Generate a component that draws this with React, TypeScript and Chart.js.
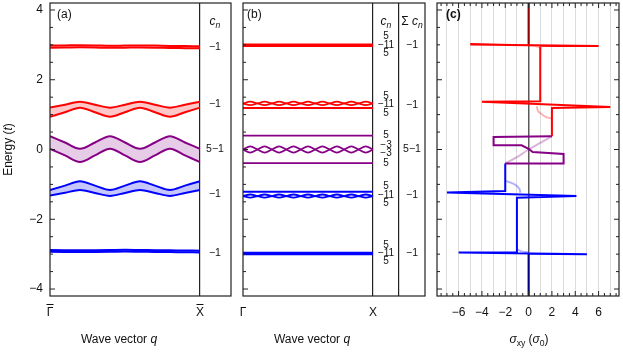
import React, { useEffect, useRef } from "react";
import { Chart, registerables } from "chart.js";
Chart.register(...registerables);

const FONT = "'Liberation Sans', Arial, Helvetica, sans-serif";
const RED = "#ff0000";
const PURPLE = "#860086";
const BLUE = "#0000ff";
const DARKRED = "#8b0000";
const NAVY = "#000080";
const RED_FILL = "rgba(255,0,0,0.22)";
const PUR_FILL = "rgba(134,0,134,0.2)";
const BLU_FILL = "rgba(0,0,255,0.22)";
const INK = "#111";

// ---------- Panel (a): bands along wave vector q ----------
const qA = [0, 0.1, 0.2, 0.3, 0.4, 0.5, 0.6, 0.7, 0.8, 0.9, 1.0];
const aRedTopUpper = [2.98, 2.985, 2.99, 2.985, 2.975, 2.98, 2.985, 2.98, 2.97, 2.965, 2.96];
const aRedTopLower = [2.92, 2.925, 2.93, 2.925, 2.915, 2.92, 2.925, 2.92, 2.91, 2.905, 2.9];
const aRedUpper = [1.2, 1.285, 1.37, 1.285, 1.2, 1.285, 1.37, 1.285, 1.2, 1.285, 1.37];
const aRedLower = [0.94, 1.07, 1.2, 1.07, 0.94, 1.07, 1.2, 1.07, 0.94, 1.07, 1.2];
const aPurUpper = [0.38, 0.2, 0.02, 0.2, 0.38, 0.2, 0.02, 0.2, 0.38, 0.2, 0.02];
const aPurLower = [0.02, -0.17, -0.36, -0.17, 0.02, -0.17, -0.36, -0.17, 0.02, -0.17, -0.36];
const aBluUpper = [-1.16, -1.035, -0.91, -1.035, -1.16, -1.035, -0.91, -1.035, -1.16, -1.035, -0.91];
const aBluLower = [-1.32, -1.24, -1.16, -1.245, -1.33, -1.245, -1.16, -1.245, -1.33, -1.245, -1.16];
const aBluBotUpper = [-2.88, -2.885, -2.89, -2.885, -2.88, -2.875, -2.88, -2.885, -2.89, -2.895, -2.9];
const aBluBotLower = [-2.93, -2.935, -2.94, -2.935, -2.93, -2.925, -2.93, -2.935, -2.94, -2.945, -2.95];
const aChernLabels = ["\u22121", "\u22121", "5\u22121", "\u22121", "\u22121"];
const aChernEnergies = [2.94, 1.3, 0, -1.27, -2.98];
const qTickValuesA = [0, 1];
const qTickLabelsA = ["\u0393", "X"]; // drawn with an overbar (\u0393\u0304, X\u0304)

// ---------- Panel (b) ----------
const qEnds = [0, 1];
const qB = [0, 0.0556, 0.1111, 0.1667, 0.2222, 0.2778, 0.3333, 0.3889, 0.4444, 0.5, 0.5556, 0.6111, 0.6667, 0.7222, 0.7778, 0.8333, 0.8889, 0.9444, 1];
const bRedTop = [2.99, 2.99];
const bRedBraidA = [1.32, 1.37, 1.32, 1.27, 1.32, 1.37, 1.32, 1.27, 1.32, 1.37, 1.32, 1.27, 1.32, 1.37, 1.32, 1.27, 1.32, 1.37, 1.32];
const bRedBraidB = [1.32, 1.27, 1.32, 1.37, 1.32, 1.27, 1.32, 1.37, 1.32, 1.27, 1.32, 1.37, 1.32, 1.27, 1.32, 1.37, 1.32, 1.27, 1.32];
const bRedLow = [1.19, 1.19];
const bPurTop = [0.4, 0.4];
const bPurBraidA = [0, 0.09, 0, -0.09, 0, 0.09, 0, -0.09, 0, 0.09, 0, -0.09, 0, 0.09, 0, -0.09, 0, 0.09, 0];
const bPurBraidB = [0, -0.09, 0, 0.09, 0, -0.09, 0, 0.09, 0, -0.09, 0, 0.09, 0, -0.09, 0, 0.09, 0, -0.09, 0];
const bPurLow = [-0.39, -0.39];
const bBluTop = [-1.21, -1.21];
const bBluBraidA = [-1.335, -1.29, -1.335, -1.38, -1.335, -1.29, -1.335, -1.38, -1.335, -1.29, -1.335, -1.38, -1.335, -1.29, -1.335, -1.38, -1.335, -1.29, -1.335];
const bBluBraidB = [-1.335, -1.38, -1.335, -1.29, -1.335, -1.38, -1.335, -1.29, -1.335, -1.38, -1.335, -1.29, -1.335, -1.38, -1.335, -1.29, -1.335, -1.38, -1.335];
const bBluBot = [-2.98, -2.98];
const bChernLabels = ["5", "\u221211", "5", "5", "\u221211", "5", "5", "\u22123", "\u22123", "5", "5", "\u221211", "5", "5", "\u221211", "5"];
const bChernEnergies = [3.24, 3.0, 2.76, 1.52, 1.31, 1.05, 0.4, 0.11, -0.11, -0.4, -1.05, -1.31, -1.54, -2.74, -2.98, -3.2];
const bSumLabels = ["\u22121", "\u22121", "5\u22121", "\u22121", "\u22121"];
const bSumEnergies = [3.0, 1.26, 0, -1.31, -2.98];
const qTickValuesB = [0, 1, 1.2];
const qTickLabelsB = ["\u0393", "X", ""];

// ---------- Panel (c): Hall conductivity vs energy ----------
const cSigmaDarkRed = [0, 0];
const cEnergyDarkRed = [4.25, 2.99];
const cSigmaRed = [0, -5.0, 6.0, 1.0, 1.0, -4.0, 7.0, 2.0, 2.0];
const cEnergyRed = [2.99, 3.01, 2.97, 2.97, 1.38, 1.37, 1.22, 1.19, 0.38];
const cSigmaPur = [2.0, -3.0, -3.0, -0.6, 0, 0.35, 3.0, 3.0, -2.0];
const cEnergyPur = [0.38, 0.36, 0.12, 0.12, 0.02, -0.07, -0.13, -0.4, -0.4];
const cSigmaBlu = [-2.0, -2.0, -7.0, 4.1, -1.0, -1.0, -6.0, 5.0, 0];
const cEnergyBlu = [-0.4, -1.19, -1.23, -1.33, -1.38, -2.95, -2.95, -3.0, -2.99];
const cSigmaNavy = [0, 0];
const cEnergyNavy = [-2.99, -4.25];
const cSigmaLightRed1 = [0, 0.6, 0.9, 1.0];
const cEnergyLightRed1 = [2.99, 2.97, 2.93, 2.9];
const cSigmaLightRed2 = [0.7, 0.8, 1.0, 1.5, 2.0];
const cEnergyLightRed2 = [1.24, 1.12, 1.04, 0.93, 0.89];
const cSigmaLightPur = [2.0, 1.0, 0, -1.0, -2.0];
const cEnergyLightPur = [0.38, 0.19, 0, -0.22, -0.4];
const cSigmaLightBlu1 = [-2.0, -1.2, -0.8, -0.7];
const cEnergyLightBlu1 = [-0.9, -1.0, -1.12, -1.24];
const cSigmaLightBlu2 = [-1.0, -0.6, 0];
const cEnergyLightBlu2 = [-2.86, -2.92, -2.95];
const cGridValues = [-7, -6, -5, -4, -3, -2, -1, 0, 1, 2, 3, 4, 5, 6, 7];
const cTickValues = [-6, -4, -2, 0, 2, 4, 6];
const cTickLabels = ["\u22126", "\u22124", "\u22122", "0", "2", "4", "6"];

const yTickValues = [-4, -2, 0, 2, 4];
const yTickLabels = ["\u22124", "\u22122", "0", "2", "4"];

type Part = { t: string; i?: boolean; sub?: boolean; b?: boolean };

function pts(xs: number[], ys: number[]) {
  return xs.map((x, i) => ({ x, y: ys[i] }));
}

function lineDS(xs: number[], ys: number[], color: string, width: number, extra: any = {}) {
  return { data: pts(xs, ys), borderColor: color, borderWidth: width, pointRadius: 0, fill: false, tension: 0, ...extra };
}

function rich(ctx: CanvasRenderingContext2D, parts: Part[], x: number, y: number, size: number, align = "center") {
  const f = (p: Part) => `${p.i ? "italic " : ""}${p.b ? "bold " : ""}${p.sub ? size * 0.72 : size}px ${FONT}`;
  let total = 0;
  for (const p of parts) {
    ctx.font = f(p);
    total += ctx.measureText(p.t).width;
  }
  let cx = align === "center" ? x - total / 2 : align === "right" ? x - total : x;
  ctx.textBaseline = "middle";
  ctx.textAlign = "left";
  ctx.fillStyle = INK;
  for (const p of parts) {
    ctx.font = f(p);
    ctx.fillText(p.t, cx, y + (p.sub ? size * 0.32 : 0));
    cx += ctx.measureText(p.t).width;
  }
}

function seg(ctx: CanvasRenderingContext2D, x1: number, y1: number, x2: number, y2: number) {
  ctx.beginPath();
  ctx.moveTo(x1, y1);
  ctx.lineTo(x2, y2);
  ctx.stroke();
}

function frame(chart: any) {
  const { ctx, chartArea: a } = chart;
  ctx.save();
  ctx.strokeStyle = "#222";
  ctx.lineWidth = 1.2;
  ctx.strokeRect(a.left, a.top, a.right - a.left, a.bottom - a.top);
  ctx.restore();
}

function yTicks(chart: any, side: "left" | "right") {
  const { ctx, chartArea: a } = chart;
  const y = chart.scales.y;
  ctx.save();
  ctx.strokeStyle = "#222";
  ctx.lineWidth = 1;
  for (let k = -8; k <= 8; k++) {
    const v = k * 0.5;
    const len = k % 4 === 0 ? 5 : 3;
    const py = y.getPixelForValue(v);
    if (side === "left") seg(ctx, a.left, py, a.left + len, py);
    else seg(ctx, a.right, py, a.right - len, py);
  }
  ctx.restore();
}

function xTicksC(chart: any) {
  const { ctx, chartArea: a } = chart;
  const x = chart.scales.x;
  ctx.save();
  ctx.strokeStyle = "#222";
  ctx.lineWidth = 1;
  for (let k = -15; k <= 15; k++) {
    const v = k * 0.5;
    const len = k % 4 === 0 ? 5 : 3;
    const px = x.getPixelForValue(v);
    seg(ctx, px, a.bottom, px, a.bottom - len);
    seg(ctx, px, a.top, px, a.top + len);
  }
  ctx.restore();
}

const decorA = {
  id: "decorA",
  afterDraw(chart: any) {
    const { ctx, chartArea: a } = chart;
    const x = chart.scales.x, y = chart.scales.y;
    frame(chart);
    yTicks(chart, "left");
    ctx.save();
    // overbars on the tick labels
    ctx.strokeStyle = INK;
    ctx.lineWidth = 1;
    qTickValuesA.forEach((v) => {
      const px = x.getPixelForValue(v);
      seg(ctx, px - 3.5, a.bottom + 8.5, px + 3.5, a.bottom + 8.5);
    });
    rich(ctx, [{ t: "(a)" }], a.left + 7, a.top + 12, 12, "left");
    rich(ctx, [{ t: "c", i: true }, { t: "n", i: true, sub: true }], x.getPixelForValue(1.1), y.getPixelForValue(3.66), 12);
    aChernLabels.forEach((l, i) => rich(ctx, [{ t: l }], x.getPixelForValue(1.1), y.getPixelForValue(aChernEnergies[i]), 10.5));
    rich(ctx, [{ t: "Wave vector " }, { t: "q", i: true }], 119, 340, 12);
    ctx.translate(9, (a.top + a.bottom) / 2);
    ctx.rotate(-Math.PI / 2);
    rich(ctx, [{ t: "Energy (" }, { t: "t", i: true }, { t: ")" }], 0, 0, 12);
    ctx.restore();
  },
};

const decorB = {
  id: "decorB",
  afterDraw(chart: any) {
    const { ctx, chartArea: a } = chart;
    const x = chart.scales.x, y = chart.scales.y;
    frame(chart);
    yTicks(chart, "left");
    ctx.save();
    rich(ctx, [{ t: "(b)" }], a.left + 4, a.top + 12, 12, "left");
    rich(ctx, [{ t: "c", i: true }, { t: "n", i: true, sub: true }], x.getPixelForValue(1.1), y.getPixelForValue(3.66), 12);
    rich(ctx, [{ t: "\u03a3 " }, { t: "c", i: true }, { t: "n", i: true, sub: true }], x.getPixelForValue(1.3), y.getPixelForValue(3.66), 12);
    bChernLabels.forEach((l, i) => rich(ctx, [{ t: l }], x.getPixelForValue(1.1), y.getPixelForValue(bChernEnergies[i]), 10));
    bSumLabels.forEach((l, i) => rich(ctx, [{ t: l }], x.getPixelForValue(1.3), y.getPixelForValue(bSumEnergies[i]), 10.5));
    rich(ctx, [{ t: "Wave vector " }, { t: "q", i: true }], 77, 340, 12);
    ctx.restore();
  },
};

const decorC = {
  id: "decorC",
  afterDraw(chart: any) {
    const { ctx, chartArea: a } = chart;
    frame(chart);
    yTicks(chart, "left");
    yTicks(chart, "right");
    xTicksC(chart);
    ctx.save();
    rich(ctx, [{ t: "(c)", b: true }], a.left + 9, a.top + 12, 12, "left");
    rich(
      ctx,
      [{ t: "\u03c3", i: true }, { t: "xy", sub: true }, { t: " (" }, { t: "\u03c3", i: true }, { t: "0", sub: true }, { t: ")" }],
      99,
      340,
      12
    );
    ctx.restore();
  },
};

const tickFont = { family: FONT, size: 12 };

function yScale(width: number | null, showLabels: boolean) {
  return {
    type: "linear",
    min: -4.2,
    max: 4.2,
    display: showLabels,
    afterBuildTicks: (s: any) => {
      s.ticks = yTickValues.map((v) => ({ value: v }));
    },
    afterFit: (s: any) => {
      if (width !== null) s.width = width;
      s.paddingTop = 0;
      s.paddingBottom = 0;
    },
    ticks: {
      padding: 7,
      font: tickFont,
      color: INK,
      autoSkip: false,
      callback: (_v: any, i: number) => yTickLabels[i] ?? "",
    },
    grid: { drawOnChartArea: false, drawTicks: false },
    border: { display: false },
  };
}

function xFit(s: any) {
  s.height = 61;
  s.paddingLeft = 0;
  s.paddingRight = 0;
}

const baseOptions = {
  animation: false,
  responsive: false,
  events: [],
  plugins: { legend: { display: false }, tooltip: { enabled: false } },
};

function cfgA(): any {
  const mono = { cubicInterpolationMode: "monotone" };
  return {
    type: "line",
    data: {
      datasets: [
        lineDS(qA, aRedTopUpper, RED, 2, mono),
        lineDS(qA, aRedTopLower, RED, 2, { ...mono, fill: "-1", backgroundColor: RED_FILL }),
        lineDS(qA, aRedUpper, RED, 2, mono),
        lineDS(qA, aRedLower, RED, 2, { ...mono, fill: "-1", backgroundColor: RED_FILL }),
        lineDS(qA, aPurUpper, PURPLE, 2, mono),
        lineDS(qA, aPurLower, PURPLE, 2, { ...mono, fill: "-1", backgroundColor: PUR_FILL }),
        lineDS(qA, aBluUpper, BLUE, 2, mono),
        lineDS(qA, aBluLower, BLUE, 2, { ...mono, fill: "-1", backgroundColor: BLU_FILL }),
        lineDS(qA, aBluBotUpper, BLUE, 2, mono),
        lineDS(qA, aBluBotLower, BLUE, 2, { ...mono, fill: "-1", backgroundColor: BLU_FILL }),
      ],
    },
    options: {
      ...baseOptions,
      layout: { padding: { top: 3, right: 4, left: 0, bottom: 0 } },
      scales: {
        x: {
          type: "linear",
          min: 0,
          max: 1.207,
          afterBuildTicks: (s: any) => {
            s.ticks = qTickValuesA.map((v) => ({ value: v }));
          },
          afterFit: xFit,
          ticks: {
            autoSkip: false,
            maxRotation: 0,
            padding: 9,
            font: tickFont,
            color: INK,
            callback: (_v: any, i: number) => qTickLabelsA[i] ?? "",
          },
          grid: {
            drawTicks: false,
            color: (c: any) => (c.tick && c.tick.value === 1 ? "#222" : "rgba(0,0,0,0)"),
            lineWidth: 1.2,
          },
          border: { display: false },
        },
        y: yScale(50, true),
      },
    },
    plugins: [decorA],
  };
}

function cfgB(): any {
  const mono = { cubicInterpolationMode: "monotone" };
  return {
    type: "line",
    data: {
      datasets: [
        lineDS(qEnds, bRedTop, RED, 3.5),
        lineDS(qB, bRedBraidA, RED, 1.8, mono),
        lineDS(qB, bRedBraidB, RED, 1.8, mono),
        lineDS(qEnds, bRedLow, RED, 2),
        lineDS(qEnds, bPurTop, PURPLE, 1.8),
        lineDS(qB, bPurBraidA, PURPLE, 1.8, mono),
        lineDS(qB, bPurBraidB, PURPLE, 1.8, mono),
        lineDS(qEnds, bPurLow, PURPLE, 1.8),
        lineDS(qEnds, bBluTop, BLUE, 2),
        lineDS(qB, bBluBraidA, BLUE, 1.8, mono),
        lineDS(qB, bBluBraidB, BLUE, 1.8, mono),
        lineDS(qEnds, bBluBot, BLUE, 3.5),
      ],
    },
    options: {
      ...baseOptions,
      layout: { padding: { top: 3, right: 5, left: 8, bottom: 0 } },
      scales: {
        x: {
          type: "linear",
          min: 0,
          max: 1.4,
          afterBuildTicks: (s: any) => {
            s.ticks = qTickValuesB.map((v) => ({ value: v }));
          },
          afterFit: xFit,
          ticks: {
            autoSkip: false,
            maxRotation: 0,
            padding: 9,
            font: tickFont,
            color: INK,
            callback: (_v: any, i: number) => qTickLabelsB[i] ?? "",
          },
          grid: {
            drawTicks: false,
            color: (c: any) => (c.tick && c.tick.value > 0.5 ? "#222" : "rgba(0,0,0,0)"),
            lineWidth: 1.2,
          },
          border: { display: false },
        },
        y: yScale(null, false),
      },
    },
    plugins: [decorB],
  };
}

function cfgC(): any {
  const light = { tension: 0.4 };
  return {
    type: "line",
    data: {
      datasets: [
        lineDS(cSigmaLightRed1, cEnergyLightRed1, "rgba(255,0,0,0.3)", 2, light),
        lineDS(cSigmaLightRed2, cEnergyLightRed2, "rgba(255,0,0,0.3)", 2, light),
        lineDS(cSigmaLightPur, cEnergyLightPur, "rgba(134,0,134,0.3)", 2, light),
        lineDS(cSigmaLightBlu1, cEnergyLightBlu1, "rgba(0,0,255,0.3)", 2, light),
        lineDS(cSigmaLightBlu2, cEnergyLightBlu2, "rgba(0,0,255,0.3)", 2, light),
        lineDS(cSigmaRed, cEnergyRed, RED, 2),
        lineDS(cSigmaPur, cEnergyPur, PURPLE, 2),
        lineDS(cSigmaBlu, cEnergyBlu, BLUE, 2),
        lineDS(cSigmaDarkRed, cEnergyDarkRed, DARKRED, 2),
        lineDS(cSigmaNavy, cEnergyNavy, NAVY, 2),
      ],
    },
    options: {
      ...baseOptions,
      layout: { padding: { top: 3, right: 4, left: 7, bottom: 0 } },
      scales: {
        x: {
          type: "linear",
          min: -7.85,
          max: 7.75,
          afterBuildTicks: (s: any) => {
            s.ticks = cGridValues.map((v) => ({ value: v }));
          },
          afterFit: xFit,
          ticks: {
            autoSkip: false,
            maxRotation: 0,
            padding: 9,
            font: tickFont,
            color: INK,
            callback: (v: any) => {
              const j = cTickValues.indexOf(v);
              return j >= 0 ? cTickLabels[j] : "";
            },
          },
          grid: {
            drawTicks: false,
            color: (c: any) => (c.tick && c.tick.value === 0 ? "#5a5a5a" : "#dcdcdc"),
            lineWidth: (c: any) => (c.tick && c.tick.value === 0 ? 1.5 : 1),
          },
          border: { display: false },
        },
        y: yScale(null, false),
      },
    },
    plugins: [decorC],
  };
}

export default function App() {
  const refA = useRef<HTMLCanvasElement>(null);
  const refB = useRef<HTMLCanvasElement>(null);
  const refC = useRef<HTMLCanvasElement>(null);
  useEffect(() => {
    const charts = [
      new Chart(refA.current as HTMLCanvasElement, cfgA()),
      new Chart(refB.current as HTMLCanvasElement, cfgB()),
      new Chart(refC.current as HTMLCanvasElement, cfgC()),
    ];
    return () => charts.forEach((c) => c.destroy());
  }, []);
  return (
    <div style={{ position: "fixed", left: 0, top: 0, width: 623, height: 357, background: "#fff", overflow: "hidden" }}>
      <canvas ref={refA} width={235} height={357} style={{ position: "absolute", left: 0, top: 0 }} />
      <canvas ref={refB} width={195} height={357} style={{ position: "absolute", left: 235, top: 0 }} />
      <canvas ref={refC} width={193} height={357} style={{ position: "absolute", left: 430, top: 0 }} />
    </div>
  );
}
